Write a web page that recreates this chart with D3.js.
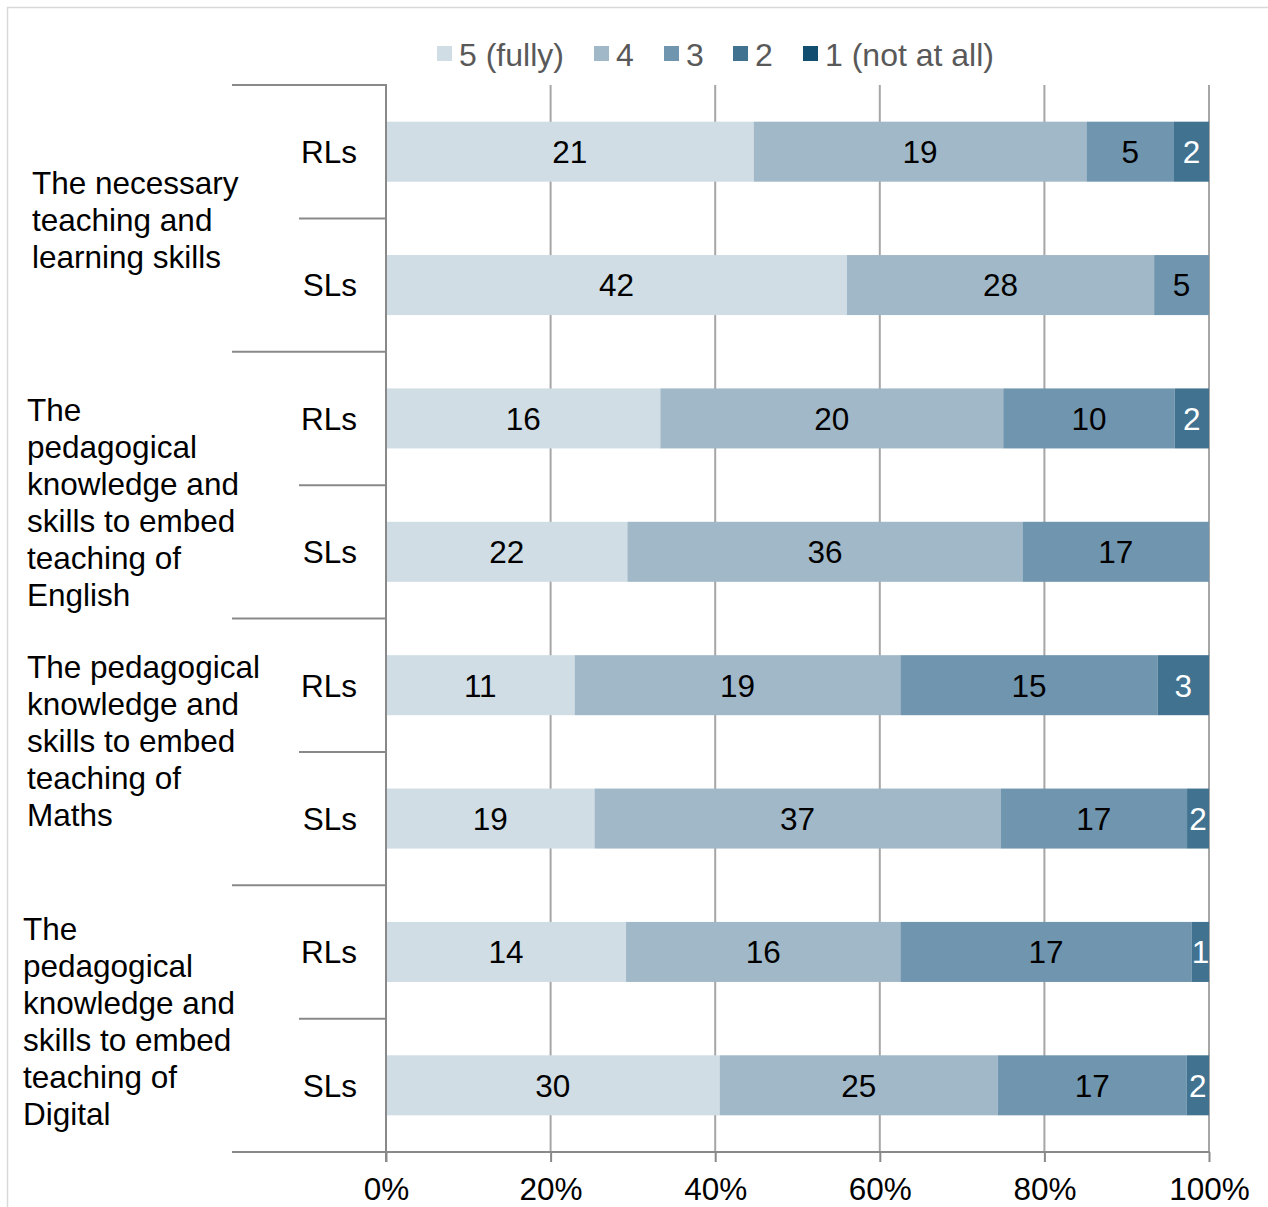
<!DOCTYPE html>
<html>
<head>
<meta charset="utf-8">
<script src="https://cdn.jsdelivr.net/npm/d3@7"></script>
<style>
  html, body { margin: 0; padding: 0; background: #fff; }
  svg text { font-family: "Liberation Sans", Arial, sans-serif; }
</style>
</head>
<body>
<svg id="chart" width="1268" height="1207"></svg>
<script>
// ---- Data ----
const categoryLines = [
  ["The necessary", "teaching and", "learning skills"],
  ["The", "pedagogical", "knowledge and", "skills to embed", "teaching of", "English"],
  ["The pedagogical", "knowledge and", "skills to embed", "teaching of", "Maths"],
  ["The", "pedagogical", "knowledge and", "skills to embed", "teaching of", "Digital"]
];
const groups = ["RLs", "SLs"];
const seriesNames = ["5 (fully)", "4", "3", "2", "1 (not at all)"];
const s5 = [21, 42, 16, 22, 11, 19, 14, 30];
const s4 = [19, 28, 20, 36, 19, 37, 16, 25];
const s3 = [5, 5, 10, 17, 15, 17, 17, 17];
const s2 = [2, 0, 2, 0, 3, 2, 1, 2];
const s1 = [0, 0, 0, 0, 0, 0, 0, 0];
const tickValues = [0, 0.2, 0.4, 0.6, 0.8, 1];
const tickLabels = ["0%", "20%", "40%", "60%", "80%", "100%"];

// ---- Style ----
const colors = ["#d0dde5", "#a1b8c8", "#7095ae", "#41728f", "#124e70"];
const labelColors = ["#000", "#000", "#000", "#fff", "#fff"];
const FONT = 31.5;
const labelLayout = [
  { x: 32, y0: 183 },
  { x: 27, y0: 410 },
  { x: 27, y0: 667 },
  { x: 23, y0: 929 }
];
const LINE_H = 37;

const svg = d3.select("#chart");

// frame border
svg.append("path")
  .attr("d", "M7.5,1207 L7.5,7.5 L1268,7.5")
  .attr("fill", "none").attr("stroke", "#d9d9d9").attr("stroke-width", 1.5);

const plotLeft = 386, plotRight = 1209, plotTop = 85, plotBottom = 1152;

const rowKeys = [];
categoryLines.forEach((c, ci) => groups.forEach((g, gi) => rowKeys.push(ci + "-" + g)));

const x = d3.scaleLinear().domain([0, 1]).range([plotLeft, plotRight]);
const y = d3.scaleBand().domain(rowKeys).range([plotTop, plotBottom])
  .paddingInner(0.55).paddingOuter(0.275);
const step = y.step();

const seriesArr = [s5, s4, s3, s2, s1];
const rows = rowKeys.map((k, i) => {
  const obj = { key: k };
  seriesArr.forEach((s, si) => obj["s" + si] = s[i]);
  obj.total = d3.sum(seriesArr, s => s[i]);
  return obj;
});
const stack = d3.stack().keys(seriesArr.map((s, si) => "s" + si))
  .value((d, key) => d[key] / d.total);
const stacked = stack(rows);

// gridlines
svg.append("g").selectAll("line").data(tickValues.slice(1)).join("line")
  .attr("x1", d => x(d)).attr("x2", d => x(d))
  .attr("y1", plotTop).attr("y2", plotBottom)
  .attr("stroke", "#a6a6a6").attr("stroke-width", 2);

// bars
const layers = svg.append("g").selectAll("g").data(stacked).join("g")
  .attr("fill", (d, i) => colors[i]);
layers.selectAll("rect").data(d => d).join("rect")
  .attr("x", d => x(d[0]))
  .attr("width", d => Math.max(0, x(d[1]) - x(d[0])))
  .attr("y", d => y(d.data.key))
  .attr("height", y.bandwidth());

// value labels
stacked.forEach((layer, li) => {
  svg.append("g").selectAll("text").data(layer.filter(d => d.data["s" + li] > 0)).join("text")
    .attr("x", d => (x(d[0]) + x(d[1])) / 2)
    .attr("y", d => y(d.data.key) + y.bandwidth() / 2)
    .attr("dy", "0.36em")
    .attr("text-anchor", "middle")
    .attr("font-size", FONT)
    .attr("fill", labelColors[li])
    .text(d => d.data["s" + li]);
});

// vertical axis line
svg.append("line")
  .attr("x1", plotLeft).attr("x2", plotLeft)
  .attr("y1", plotTop).attr("y2", plotBottom + 10)
  .attr("stroke", "#898989").attr("stroke-width", 2);

// group separators (long)
const groupBounds = d3.range(categoryLines.length + 1).map(i => plotTop + i * 2 * step);
svg.append("g").selectAll("line").data(groupBounds).join("line")
  .attr("x1", 232).attr("x2", plotLeft + 1)
  .attr("y1", d => d).attr("y2", d => d)
  .attr("stroke", "#898989").attr("stroke-width", 2);
// sub separators
const subBounds = d3.range(categoryLines.length).map(i => plotTop + (i * 2 + 1) * step);
svg.append("g").selectAll("line").data(subBounds).join("line")
  .attr("x1", 299).attr("x2", plotLeft + 1)
  .attr("y1", d => d).attr("y2", d => d)
  .attr("stroke", "#898989").attr("stroke-width", 2);

// bottom axis
const xAxis = d3.axisBottom(x).tickValues(tickValues)
  .tickFormat((d, i) => tickLabels[i]).tickSize(10).tickPadding(16);
const gx = svg.append("g").attr("transform", `translate(0,${plotBottom})`).call(xAxis);
gx.select(".domain").remove();
gx.selectAll(".tick line").attr("stroke", "#898989").attr("stroke-width", 2);
gx.selectAll(".tick text").attr("font-size", FONT).attr("fill", "#000")
  .attr("font-family", "Liberation Sans, Arial, sans-serif");
svg.append("line").attr("x1", 232).attr("x2", plotRight + 1)
  .attr("y1", plotBottom).attr("y2", plotBottom)
  .attr("stroke", "#898989").attr("stroke-width", 2);

// sub labels RLs / SLs
svg.append("g").selectAll("text").data(rowKeys).join("text")
  .attr("x", 357)
  .attr("y", d => y(d) + y.bandwidth() / 2)
  .attr("dy", "0.36em")
  .attr("text-anchor", "end")
  .attr("font-size", FONT)
  .attr("fill", "#000")
  .text(d => d.split("-")[1]);

// category labels
categoryLines.forEach((lines, ci) => {
  const t = svg.append("text")
    .attr("font-size", FONT).attr("fill", "#000");
  lines.forEach((ln, li) => {
    t.append("tspan")
      .attr("x", labelLayout[ci].x)
      .attr("y", labelLayout[ci].y0 + li * LINE_H)
      .attr("dy", "0.36em")
      .text(ln);
  });
});

// legend
const legendX = [437, 594, 664, 733, 803];
const lg = svg.append("g").selectAll("g").data(seriesNames).join("g")
  .attr("transform", (d, i) => `translate(${legendX[i]},54)`);
lg.append("rect").attr("x", 0).attr("y", -8).attr("width", 15).attr("height", 15)
  .attr("fill", (d, i) => colors[i]);
lg.append("text").attr("x", 22).attr("dy", "0.36em")
  .attr("font-size", 32).attr("fill", "#595959").text(d => d);
</script>
</body>
</html>
